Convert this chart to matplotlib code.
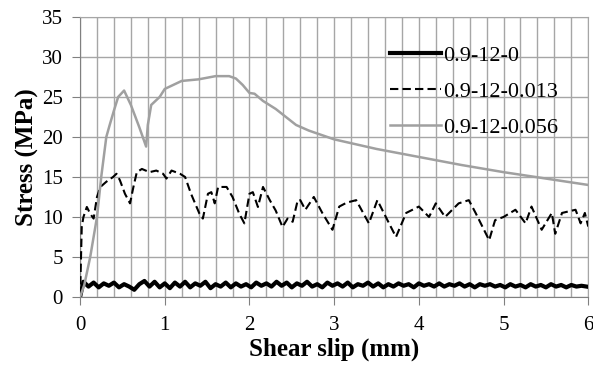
import matplotlib
matplotlib.use("Agg")
import matplotlib.pyplot as plt
import numpy as np

# 0.9-12-0 (thick black, small zigzag around 1.5 MPa)
black_y = [
    1.9, 1.3, 1.8, 1.2, 1.7, 1.4, 1.8, 1.2, 1.6, 1.3,
    0.9, 1.6, 2.0, 1.3, 1.9, 1.2, 1.7, 1.1, 1.8, 1.3,
    1.9, 1.2, 1.7, 1.4, 1.9, 1.1, 1.6, 1.3, 1.8, 1.2,
    1.7, 1.3, 1.6, 1.2, 1.8, 1.4, 1.7, 1.3, 1.9, 1.4,
    1.8, 1.2, 1.7, 1.4, 1.9, 1.3, 1.6, 1.2, 1.8, 1.4,
    1.7, 1.3, 1.8, 1.2, 1.6, 1.4, 1.8, 1.3, 1.7, 1.2,
    1.6, 1.3, 1.7, 1.4, 1.6, 1.2, 1.7, 1.4, 1.6, 1.3,
    1.7, 1.3, 1.6, 1.4, 1.7, 1.3, 1.6, 1.2, 1.6, 1.4,
    1.6, 1.3, 1.5, 1.2, 1.6, 1.3, 1.5, 1.2, 1.6, 1.3,
    1.5, 1.2, 1.6, 1.3, 1.5, 1.2, 1.5, 1.3, 1.4, 1.3,
]
black_x = [0.0] + list(np.linspace(0.04, 5.98, len(black_y)))
black_y = [0.0] + black_y

# 0.9-12-0.013 (dashed)
dash_x = [0, 0.02, 0.04, 0.08, 0.12, 0.16, 0.2, 0.24, 0.31, 0.39, 0.43, 0.47,
          0.53, 0.59, 0.63, 0.67, 0.73, 0.82, 0.9, 0.98, 1.02, 1.08, 1.18,
          1.24, 1.31, 1.41, 1.45, 1.51, 1.55, 1.59, 1.63, 1.73, 1.8, 1.88,
          1.94, 2.0, 2.04, 2.1, 2.16, 2.24, 2.31, 2.39, 2.45, 2.51, 2.57,
          2.6, 2.66, 2.76, 2.86, 2.98, 3.06, 3.15, 3.26, 3.41, 3.51, 3.61,
          3.73, 3.85, 4.0, 4.12, 4.2, 4.31, 4.47, 4.59, 4.67, 4.83, 4.9,
          5.0, 5.14, 5.26, 5.33, 5.45, 5.57, 5.61, 5.69, 5.85, 5.91, 5.96, 6.0]
dash_y = [0, 8.75, 10, 11.25, 10.4, 9.8, 12.5, 13.75, 14.4, 15, 15.4, 14.6,
          12.9, 11.7, 13.75, 15.6, 16, 15.6, 15.8, 15.4, 14.8, 15.8, 15.4,
          15, 12.9, 10.4, 9.8, 12.9, 13.1, 11.7, 13.75, 13.75, 12.5, 10.4,
          9.2, 12.9, 13.1, 11.25, 13.75, 12.1, 10.8, 8.75, 9.8, 9.4, 12.1,
          12.1, 10.9, 12.5, 10.5, 8.4, 11.3, 11.8, 12.1, 9.2, 12.1, 10,
          7.5, 10.5, 11.3, 10, 11.7, 10, 11.7, 12.1, 10.5, 7.1, 9.6,
          10, 10.9, 9.2, 11.3, 8.4, 10.5, 7.9, 10.5, 10.9, 9.2, 10.5, 8.8]

# 0.9-12-0.056 (grey)
grey_x = [0, 0.05, 0.12, 0.2, 0.25, 0.31, 0.35, 0.4, 0.45, 0.52, 0.6, 0.7,
          0.78, 0.8, 0.84, 0.94, 1.0, 1.1, 1.2, 1.4, 1.6, 1.76, 1.84, 1.92,
          2.0, 2.06, 2.16, 2.31, 2.43, 2.55, 2.7, 3.0, 3.5, 4.0, 4.5, 5.0,
          5.5, 6.0]
grey_y = [0, 1.5, 5, 10, 15, 20, 21.5, 23.3, 25, 25.8, 24, 21.2,
          18.8, 21.5, 24, 25, 26, 26.5, 27, 27.2, 27.6, 27.6, 27.3, 26.5,
          25.5, 25.4, 24.5, 23.5, 22.5, 21.5, 20.8, 19.7, 18.5, 17.5, 16.5, 15.6,
          14.8, 14.0]

serif = ["Liberation Serif", "DejaVu Serif"]
plt.rcParams["font.family"] = serif

fig = plt.figure(figsize=(5.93, 3.68), dpi=100)
ax = fig.add_axes([0.135, 0.193, 0.857, 0.761])

ax.plot(black_x, black_y, color="black", linewidth=3.0, label="0.9-12-0", zorder=3)
ax.plot(dash_x, dash_y, color="black", linewidth=1.5, linestyle=(0, (4, 2)),
        label="0.9-12-0.013", zorder=3)
ax.plot(grey_x, grey_y, color="#a0a0a0", linewidth=1.8, label="0.9-12-0.056", zorder=3)

ax.set_xlim(0, 6)
ax.set_ylim(0, 35)
ax.set_xticks(range(0, 7))
ax.set_yticks(range(0, 36, 5))
ax.set_xticks(np.arange(0, 6.01, 0.2), minor=True)
ax.grid(True, which="both", axis="x", color="#a6a6a6", linewidth=1.0)
ax.grid(True, which="major", axis="y", color="#a6a6a6", linewidth=1.0)
ax.tick_params(which="minor", length=0)
ax.tick_params(which="major", length=5.5, color="#808080", labelsize=15)
ax.tick_params(axis="y", pad=7)
ax.tick_params(axis="x", pad=8)
for s in ax.spines.values():
    s.set_color("#a6a6a6")
ax.spines["left"].set_color("#808080")
ax.spines["bottom"].set_color("#808080")

ax.set_xlabel("Shear slip (mm)", fontsize=18, fontweight="bold", labelpad=2)
ax.set_ylabel("Stress (MPa)", fontsize=18, fontweight="bold", labelpad=2)

ax.legend(loc="upper left", bbox_to_anchor=(390 / 593, 1 - 45 / 368),
          bbox_transform=fig.transFigure, frameon=False, borderpad=0,
          borderaxespad=0, fontsize=16, handlelength=2.3, handletextpad=0.1,
          labelspacing=0.7)

fig.savefig("out.png", dpi=100)
